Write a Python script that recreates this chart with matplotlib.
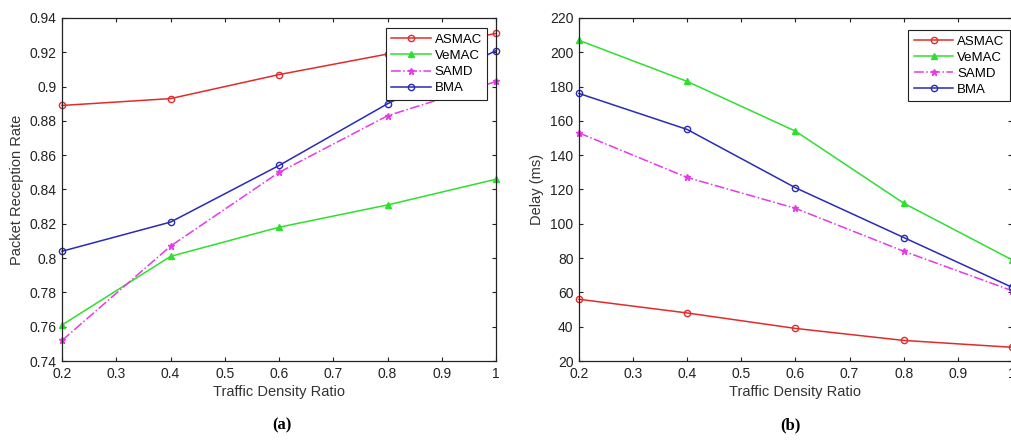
import matplotlib.pyplot as plt
from matplotlib.ticker import FuncFormatter

plt.rcParams['font.family'] = ['Liberation Sans', 'DejaVu Sans']

# data
density = [0.2, 0.4, 0.6, 0.8, 1.0]
names = ['ASMAC', 'VeMAC', 'SAMD', 'BMA']

prr_asmac = [0.889, 0.893, 0.907, 0.919, 0.931]
prr_vemac = [0.761, 0.801, 0.818, 0.831, 0.846]
prr_samd = [0.752, 0.807, 0.850, 0.883, 0.903]
prr_bma = [0.804, 0.821, 0.854, 0.890, 0.921]

delay_asmac = [56, 48, 39, 32, 28]
delay_vemac = [207, 183, 154, 112, 79]
delay_samd = [153, 127, 109, 84, 61]
delay_bma = [176, 155, 121, 92, 63]

# line styles for each protocol
styles = [
    dict(color='#e22b2b', linestyle='-', marker='o', mfc='none', markersize=4.5),
    dict(color='#2ee02e', linestyle='-', marker='^', mfc='#2ee02e', markersize=5),
    dict(color='#e838e8', linestyle='-.', marker='*', mfc='#e838e8', markersize=5),
    dict(color='#2a2ab8', linestyle='-', marker='o', mfc='none', markersize=4.5),
]


def gfmt(v, pos):
    return '%g' % round(v, 4)


def draw(ax, series, ylabel, ylim, yticks, legend_anchor):
    for name, vals, st in zip(names, series, styles):
        ax.plot(density, vals, label=name, linewidth=1.1,
                markeredgewidth=1.0, clip_on=False, **st)
    ax.set_xlim(0.2, 1.0)
    ax.set_ylim(*ylim)
    ax.set_xticks([0.2, 0.3, 0.4, 0.5, 0.6, 0.7, 0.8, 0.9, 1.0])
    ax.set_yticks(yticks)
    ax.xaxis.set_major_formatter(FuncFormatter(gfmt))
    ax.yaxis.set_major_formatter(FuncFormatter(gfmt))
    ax.tick_params(direction='in', top=True, right=True, length=3,
                   labelsize=10, colors='#222222', pad=4)
    for sp in ax.spines.values():
        sp.set_linewidth(0.9)
        sp.set_color('#222222')
    ax.set_xlabel('Traffic Density Ratio', fontsize=10.5, color='#333333', labelpad=3)
    ax.set_ylabel(ylabel, fontsize=10.5, color='#333333', labelpad=4)
    leg = ax.legend(loc='upper right', bbox_to_anchor=legend_anchor, fontsize=9.5,
                    fancybox=False, framealpha=1, edgecolor='#222222',
                    handlelength=3.0, borderpad=0.4, labelspacing=0.3,
                    handletextpad=0.3, borderaxespad=0)
    leg.get_frame().set_linewidth(0.8)


fig = plt.figure(figsize=(10.12, 4.41), dpi=100)
ax1 = fig.add_axes([0.0613, 0.1814, 0.4289, 0.7778])
ax2 = fig.add_axes([0.5721, 0.1814, 0.4279, 0.7778])

draw(ax1, [prr_asmac, prr_vemac, prr_samd, prr_bma], 'Packet Reception Rate',
     (0.74, 0.94), [0.74, 0.76, 0.78, 0.80, 0.82, 0.84, 0.86, 0.88, 0.90, 0.92, 0.94],
     (0.98, 0.97))
draw(ax2, [delay_asmac, delay_vemac, delay_samd, delay_bma], 'Delay (ms)',
     (20, 220), [20, 40, 60, 80, 100, 120, 140, 160, 180, 200, 220],
     (0.995, 0.965))

fig.text(0.279, 0.035, '(a)', ha='center', va='center', fontsize=12,
         family='Liberation Serif', fontweight='bold')
fig.text(0.781, 0.035, '(b)', ha='center', va='center', fontsize=12,
         family='Liberation Serif', fontweight='bold')

fig.savefig('out.png', dpi=100)
